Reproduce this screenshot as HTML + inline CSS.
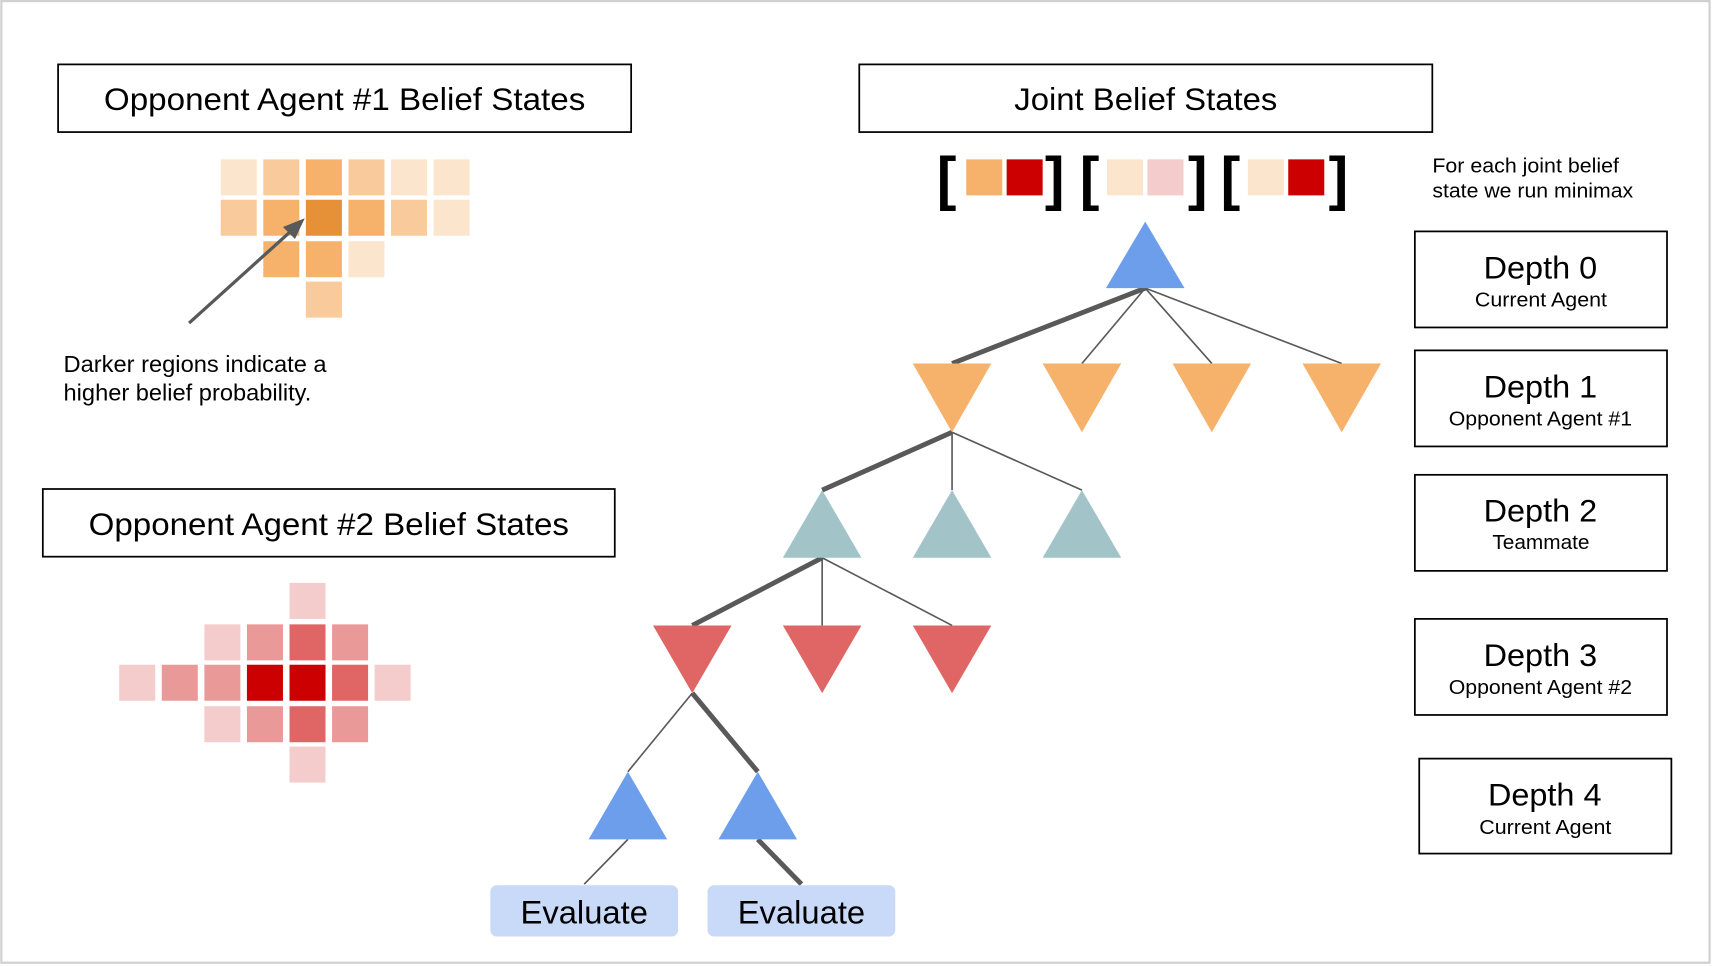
<!DOCTYPE html>
<html><head><meta charset="utf-8"><style>html,body{margin:0;padding:0;background:#fff}svg{display:block}text{font-family:"Liberation Sans",Arial,sans-serif;fill:#000}</style></head><body>
<svg width="1712" height="966" viewBox="0 0 1568 885" xmlns="http://www.w3.org/2000/svg">
<rect x="0" y="0" width="1568" height="885" fill="#fff"/>
<rect x="1" y="1" width="1565" height="881" fill="none" stroke="#d0d0d0" stroke-width="2"/>
<g fill="none" stroke="#000" stroke-width="1.6">
<rect x="53" y="59" width="525" height="62"/>
<rect x="787" y="59" width="525" height="62"/>
<rect x="39" y="448" width="524" height="62"/>
<rect x="1296" y="212" width="231" height="88"/>
<rect x="1296" y="321" width="231" height="88"/>
<rect x="1296" y="435" width="231" height="88"/>
<rect x="1296" y="567" width="231" height="88"/>
<rect x="1300" y="695" width="231" height="87"/>
</g>
<g font-size="29" lengthAdjust="spacingAndGlyphs">
<text x="95" y="101" textLength="441" lengthAdjust="spacingAndGlyphs">Opponent Agent #1 Belief States</text>
<text x="929" y="101" textLength="241" lengthAdjust="spacingAndGlyphs">Joint Belief States</text>
<text x="81" y="490" textLength="440" lengthAdjust="spacingAndGlyphs">Opponent Agent #2 Belief States</text>
<text x="1359" y="255" textLength="104" lengthAdjust="spacingAndGlyphs">Depth 0</text>
<text x="1359" y="364" textLength="104" lengthAdjust="spacingAndGlyphs">Depth 1</text>
<text x="1359" y="478" textLength="104" lengthAdjust="spacingAndGlyphs">Depth 2</text>
<text x="1359" y="610" textLength="104" lengthAdjust="spacingAndGlyphs">Depth 3</text>
<text x="1363" y="738" textLength="104" lengthAdjust="spacingAndGlyphs">Depth 4</text>
</g>
<g font-size="19">
<text x="1351" y="281" textLength="121" lengthAdjust="spacingAndGlyphs">Current Agent</text>
<text x="1327" y="390" textLength="168" lengthAdjust="spacingAndGlyphs">Opponent Agent #1</text>
<text x="1367" y="503" textLength="89" lengthAdjust="spacingAndGlyphs">Teammate</text>
<text x="1327" y="636" textLength="168" lengthAdjust="spacingAndGlyphs">Opponent Agent #2</text>
<text x="1355" y="764" textLength="121" lengthAdjust="spacingAndGlyphs">Current Agent</text>
</g>
<g font-size="19"><text x="1312" y="158" textLength="171" lengthAdjust="spacingAndGlyphs">For each joint belief</text><text x="1312" y="181" textLength="184" lengthAdjust="spacingAndGlyphs">state we run minimax</text></g>
<g font-size="21"><text x="58" y="341" textLength="241" lengthAdjust="spacingAndGlyphs">Darker regions indicate a</text><text x="58" y="367" textLength="227" lengthAdjust="spacingAndGlyphs">higher belief probability.</text></g>
<g>
<rect x="202" y="146" width="33" height="33" fill="#fce5cd"/><rect x="241" y="146" width="33" height="33" fill="#f9cb9c"/><rect x="280" y="146" width="33" height="33" fill="#f6b26b"/><rect x="319" y="146" width="33" height="33" fill="#f9cb9c"/><rect x="358" y="146" width="33" height="33" fill="#fce5cd"/><rect x="397" y="146" width="33" height="33" fill="#fce5cd"/>
<rect x="202" y="183" width="33" height="33" fill="#f9cb9c"/><rect x="241" y="183" width="33" height="33" fill="#f6b26b"/><rect x="280" y="183" width="33" height="33" fill="#e69138"/><rect x="319" y="183" width="33" height="33" fill="#f6b26b"/><rect x="358" y="183" width="33" height="33" fill="#f9cb9c"/><rect x="397" y="183" width="33" height="33" fill="#fce5cd"/>
<rect x="241" y="221" width="33" height="33" fill="#f6b26b"/><rect x="280" y="221" width="33" height="33" fill="#f6b26b"/><rect x="319" y="221" width="33" height="33" fill="#fce5cd"/>
<rect x="280" y="258" width="33" height="33" fill="#f9cb9c"/>
</g>
<line x1="173" y1="296" x2="266" y2="212" stroke="#595959" stroke-width="3"/>
<polygon points="279,200 259,208 270,219" fill="#595959"/>
<g>
<rect x="265" y="534" width="33" height="33" fill="#f4cccc"/>
<rect x="187" y="572" width="33" height="33" fill="#f4cccc"/><rect x="226" y="572" width="33" height="33" fill="#ea9999"/><rect x="265" y="572" width="33" height="33" fill="#e06666"/><rect x="304" y="572" width="33" height="33" fill="#ea9999"/>
<rect x="109" y="609" width="33" height="33" fill="#f4cccc"/><rect x="148" y="609" width="33" height="33" fill="#ea9999"/><rect x="187" y="609" width="33" height="33" fill="#ea9999"/><rect x="226" y="609" width="33" height="33" fill="#cc0000"/><rect x="265" y="609" width="33" height="33" fill="#cc0000"/><rect x="304" y="609" width="33" height="33" fill="#e06666"/><rect x="343" y="609" width="33" height="33" fill="#f4cccc"/>
<rect x="187" y="647" width="33" height="33" fill="#f4cccc"/><rect x="226" y="647" width="33" height="33" fill="#ea9999"/><rect x="265" y="647" width="33" height="33" fill="#e06666"/><rect x="304" y="647" width="33" height="33" fill="#ea9999"/>
<rect x="265" y="684" width="33" height="33" fill="#f4cccc"/>
</g>
<rect x="885" y="146" width="33" height="33" fill="#f6b26b"/><rect x="922" y="146" width="33" height="33" fill="#cc0000"/>
<rect x="1014" y="146" width="33" height="33" fill="#fce5cd"/><rect x="1051" y="146" width="33" height="33" fill="#f4cccc"/>
<rect x="1143" y="146" width="33" height="33" fill="#fce5cd"/><rect x="1180" y="146" width="33" height="33" fill="#cc0000"/>
<g font-size="54" font-weight="bold" text-anchor="middle">
<text x="867" y="182">[</text><text x="966" y="182">]</text>
<text x="998" y="182">[</text><text x="1097" y="182">]</text>
<text x="1127" y="182">[</text><text x="1226" y="182">]</text>
</g>
<g stroke="#595959" stroke-width="1.5">
<line x1="1049" y1="264" x2="991" y2="333"/><line x1="1049" y1="264" x2="1110" y2="333"/><line x1="1049" y1="264" x2="1229" y2="333"/>
<line x1="872" y1="396" x2="872" y2="449"/><line x1="872" y1="396" x2="991" y2="449"/>
<line x1="753" y1="511" x2="753" y2="573"/><line x1="753" y1="511" x2="872" y2="573"/>
<line x1="634" y1="635" x2="575" y2="707"/>
<line x1="575" y1="769" x2="535" y2="810"/>
</g>
<g stroke="#595959" stroke-width="4.5">
<line x1="1049" y1="264" x2="872" y2="333"/>
<line x1="872" y1="396" x2="753" y2="449"/>
<line x1="753" y1="511" x2="634" y2="573"/>
<line x1="634" y1="635" x2="694" y2="707"/>
<line x1="694" y1="769" x2="734" y2="810"/>
</g>
<polygon points="1049,203 1085,264 1013,264" fill="#6d9eeb"/>
<g fill="#f6b26b">
<polygon points="836,333 908,333 872,396"/><polygon points="955,333 1027,333 991,396"/><polygon points="1074,333 1146,333 1110,396"/><polygon points="1193,333 1265,333 1229,396"/>
</g>
<g fill="#a2c4c9">
<polygon points="753,449 789,511 717,511"/><polygon points="872,449 908,511 836,511"/><polygon points="991,449 1027,511 955,511"/>
</g>
<g fill="#e06666">
<polygon points="598,573 670,573 634,635"/><polygon points="717,573 789,573 753,635"/><polygon points="836,573 908,573 872,635"/>
</g>
<g fill="#6d9eeb">
<polygon points="575,707 611,769 539,769"/><polygon points="694,707 730,769 658,769"/>
</g>
<rect x="449" y="811" width="172" height="47" rx="6" fill="#c9daf8"/>
<rect x="648" y="811" width="172" height="47" rx="6" fill="#c9daf8"/>
<g font-size="30" text-anchor="middle"><text x="535" y="846">Evaluate</text><text x="734" y="846">Evaluate</text></g>
</svg>
</body></html>
